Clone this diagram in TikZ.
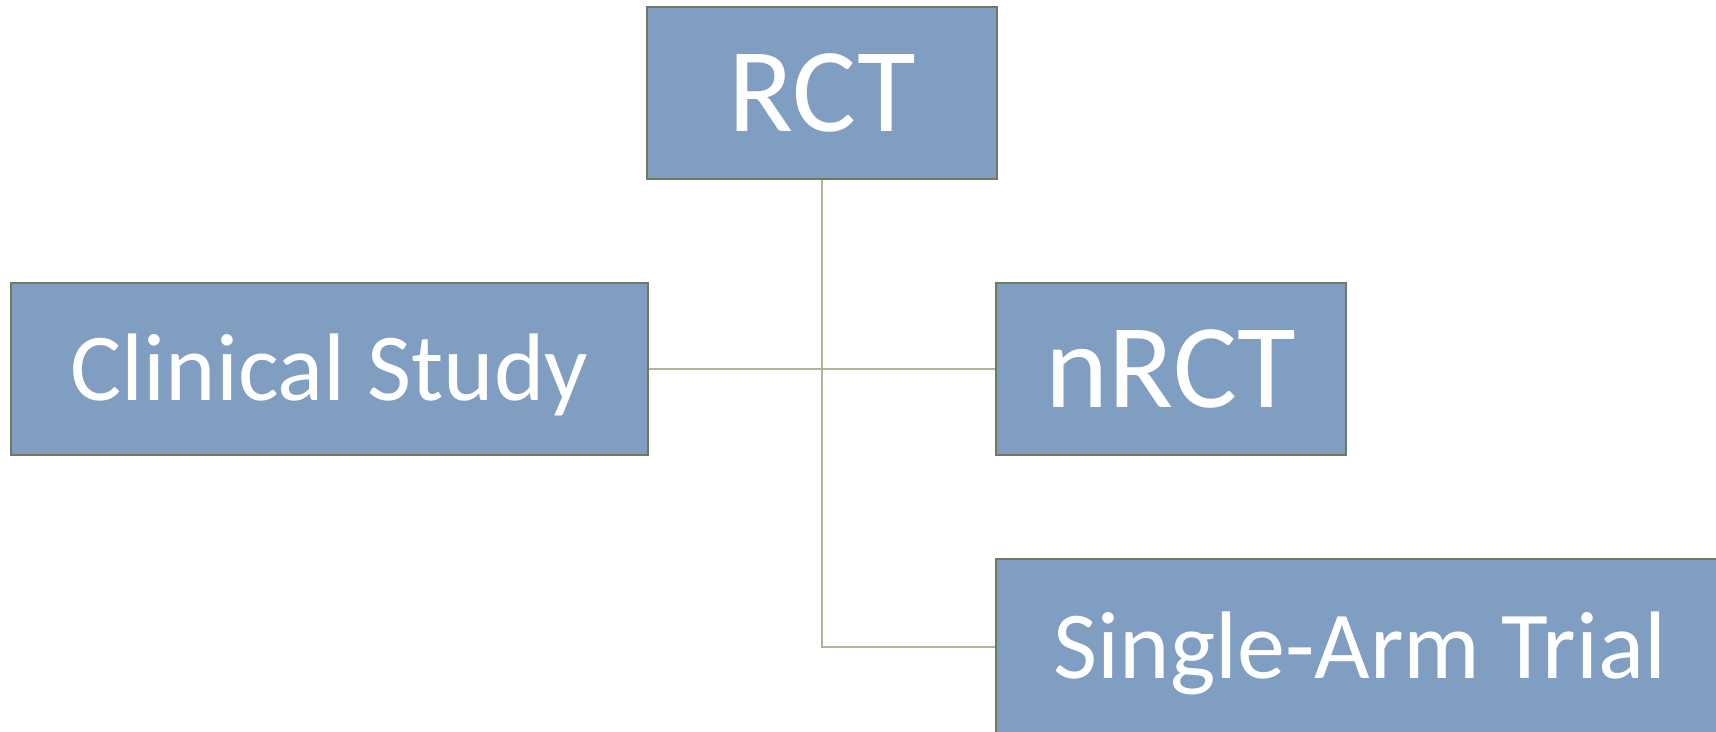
\documentclass[tikz,border=0pt]{standalone}
\usepackage{fontspec}
\setmainfont{Carlito}
\definecolor{boxfill}{RGB}{127,158,194}
\definecolor{boxline}{RGB}{112,122,96}
\definecolor{connline}{RGB}{172,182,152}
\tikzset{
  x=1pt, y=-1pt,
  stagebox/.style={draw=boxline, line width=2.5pt, fill=boxfill, text=white,
    rectangle, inner sep=0pt, align=center, text depth=0pt},
  bigtext/.style={font=\fontsize{120}{130}\selectfont, text height=77pt},
  smalltext/.style={font=\fontsize{96}{110}\selectfont, text height=62pt},
  conn/.style={draw=connline, line width=1.8pt}
}
\begin{document}
\begin{tikzpicture}
\useasboundingbox[fill=white] (0,0) rectangle (1716,731);
\node[stagebox, bigtext, minimum width=350pt, minimum height=172pt] (rct) at (822,93) {RCT};
\node[stagebox, smalltext, minimum width=637pt, minimum height=172pt] (cs) at (329.5,369) {Clinical Study};
\node[stagebox, bigtext, minimum width=350pt, minimum height=172pt] (nrct) at (1171,369) {nRCT};
\node[stagebox, smalltext, minimum width=728pt, minimum height=176pt] (sat) at (1360,647) {Single-Arm Trial};
\draw[conn] (rct.south) -- (rct.south |- sat.west) -- (sat.west);
\draw[conn] (cs.east) -- (nrct.west);
\end{tikzpicture}
\end{document}
